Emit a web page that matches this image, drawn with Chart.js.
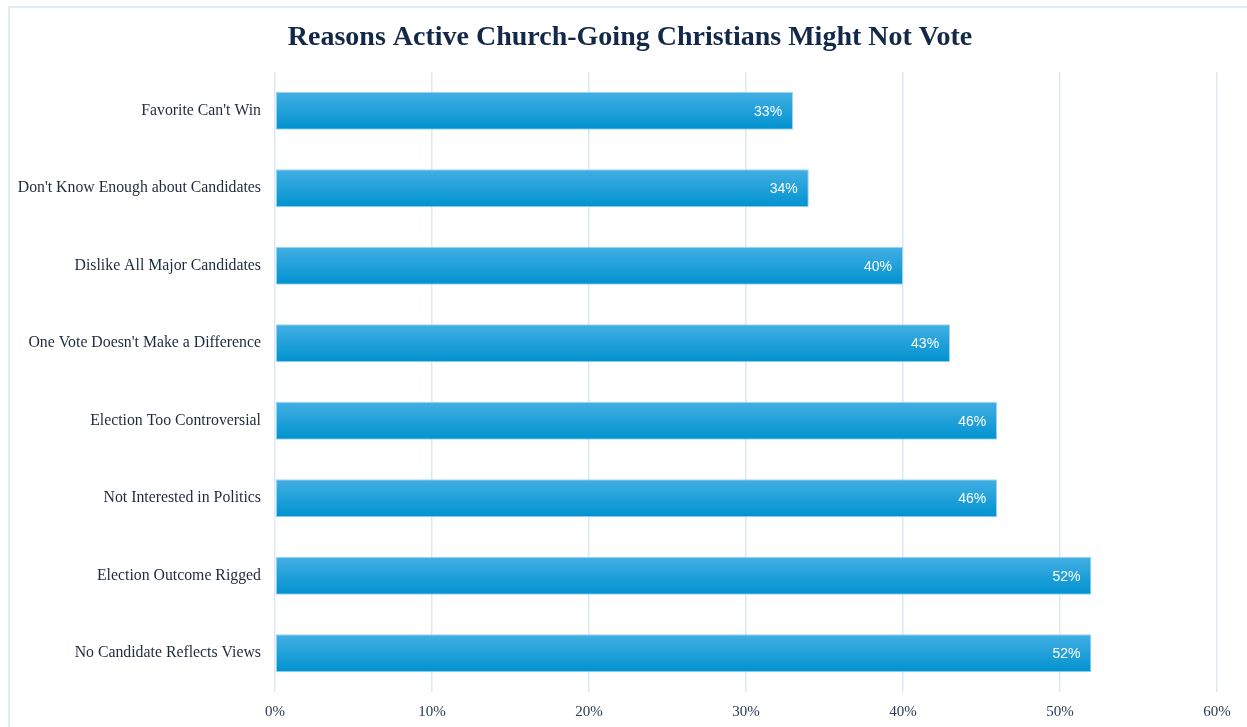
<!DOCTYPE html>
<html>
<head>
<meta charset="utf-8">
<script src="https://cdn.jsdelivr.net/npm/chart.js@4/dist/chart.umd.min.js"></script>
<style>
  html, body { margin: 0; padding: 0; background: #ffffff; overflow: hidden; }
  #wrap { position: relative; width: 1247px; height: 727px; }
  #frame { position: absolute; left: 8px; top: 6px; width: 1260px; height: 760px;
           border: 2px solid #e1ecf8; box-sizing: border-box; pointer-events: none; }
  canvas { position: absolute; left: 0; top: 0; }
</style>
</head>
<body>
<div id="wrap">
  <div id="frame"></div>
  <canvas id="chart" width="1247" height="727"></canvas>
</div>
<script>
const chartTitle = "Reasons Active Church-Going Christians Might Not Vote";
const reasons = [
  "Favorite Can't Win",
  "Don't Know Enough about Candidates",
  "Dislike All Major Candidates",
  "One Vote Doesn't Make a Difference",
  "Election Too Controversial",
  "Not Interested in Politics",
  "Election Outcome Rigged",
  "No Candidate Reflects Views"
];
const shares = [33, 34, 40, 43, 46, 46, 52, 52];
const axisTicks = [0, 10, 20, 30, 40, 50, 60];

const serif = "'Liberation Serif', 'Times New Roman', serif";
const sans = "'Liberation Sans', Arial, sans-serif";

// Vertical gradient for each bar, lighter at the top edge
function barFill(context) {
  const chart = context.chart;
  const yScale = chart.scales.y;
  if (!yScale || context.dataIndex === undefined) return '#1aa0da';
  const yc = yScale.getPixelForValue(context.dataIndex);
  if (!isFinite(yc)) return '#1aa0da';
  const half = 19;
  const g = chart.ctx.createLinearGradient(0, yc - half, 0, yc + half);
  g.addColorStop(0, '#43afe4');
  g.addColorStop(1, '#0092cf');
  return g;
}

// Chart title drawn above the plot
const titlePlugin = {
  id: 'titleText',
  afterDraw(chart) {
    const ctx = chart.ctx;
    ctx.save();
    ctx.font = "bold 28px " + serif;
    ctx.fillStyle = '#14294a';
    ctx.textAlign = 'center';
    ctx.textBaseline = 'alphabetic';
    ctx.fillText(chartTitle, 630, 44.5);
    ctx.restore();
  }
};

// Percentage labels inside the bar ends
const valueLabels = {
  id: 'valueLabels',
  afterDatasetsDraw(chart) {
    const ctx = chart.ctx;
    const meta = chart.getDatasetMeta(0);
    ctx.save();
    ctx.font = "14px " + sans;
    ctx.fillStyle = '#ffffff';
    ctx.textAlign = 'right';
    ctx.textBaseline = 'middle';
    meta.data.forEach((bar, i) => {
      ctx.fillText(shares[i] + '%', bar.x - 11, bar.y + 1);
    });
    ctx.restore();
  }
};

new Chart(document.getElementById('chart'), {
  type: 'bar',
  data: {
    labels: reasons,
    datasets: [{
      data: shares,
      backgroundColor: barFill,
      borderColor: 'rgba(150,210,240,0.9)',
      borderWidth: 1,
      borderSkipped: false,
      barPercentage: 0.98,
      categoryPercentage: 0.5
    }]
  },
  options: {
    indexAxis: 'y',
    responsive: false,
    animation: false,
    devicePixelRatio: 1,
    layout: { padding: { top: 72, right: 30, bottom: 0, left: 0 } },
    plugins: {
      legend: { display: false },
      title: { display: false },
      tooltip: { enabled: false }
    },
    scales: {
      x: {
        min: axisTicks[0],
        max: axisTicks[axisTicks.length - 1],
        afterBuildTicks(scale) { scale.ticks = axisTicks.map(v => ({ value: v })); },
        afterFit(scale) { scale.height = 35; },
        grid: { color: '#dde8f5', lineWidth: 1.5, drawTicks: false },
        border: { display: false },
        ticks: {
          padding: 11,
          color: '#2b3a4e',
          font: { family: serif, size: 15 },
          callback: v => v + '%'
        }
      },
      y: {
        afterFit(scale) { scale.width = 275; },
        grid: { display: false },
        border: { display: false },
        ticks: {
          padding: 6,
          color: '#1f2b3c',
          font: { family: serif, size: 15.8 }
        }
      }
    }
  },
  plugins: [titlePlugin, valueLabels]
});
</script>
</body>
</html>
